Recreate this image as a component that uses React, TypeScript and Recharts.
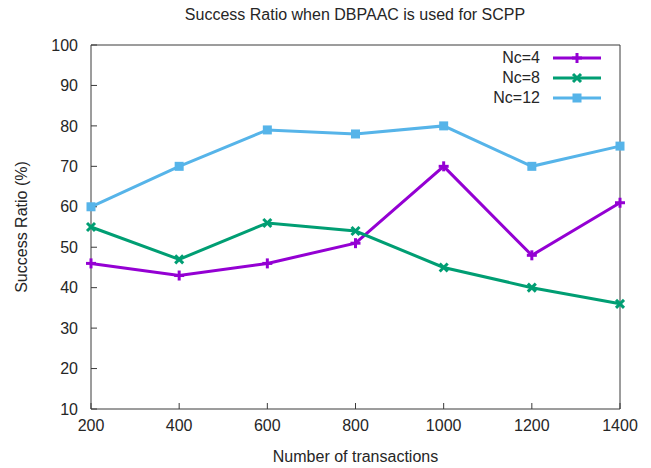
import React from 'react'
import { LineChart, Line, XAxis, YAxis } from 'recharts'

const transactions = [200, 400, 600, 800, 1000, 1200, 1400]
const nc4 = [46, 43, 46, 51, 70, 48, 61]
const nc8 = [55, 47, 56, 54, 45, 40, 36]
const nc12 = [60, 70, 79, 78, 80, 70, 75]
const yTicks = [10, 20, 30, 40, 50, 60, 70, 80, 90, 100]

const data = transactions.map((x, i) => ({ x, nc4: nc4[i], nc8: nc8[i], nc12: nc12[i] }))

const FONT = '"Liberation Sans", Arial, sans-serif'
const TEXT = '#262626'
const BORDER = '#3a3a3a'

const series = [
  { key: 'nc4', name: 'Nc=4', color: '#9400d3', shape: 'plus' },
  { key: 'nc8', name: 'Nc=8', color: '#009e73', shape: 'cross' },
  { key: 'nc12', name: 'Nc=12', color: '#56b4e9', shape: 'square' },
]

function Marker({ cx, cy, shape, color }: any) {
  if (cx == null || cy == null) return null
  if (shape === 'plus') {
    return (
      <g stroke={color} strokeWidth={3}>
        <line x1={cx - 5} y1={cy} x2={cx + 5} y2={cy} />
        <line x1={cx} y1={cy - 5} x2={cx} y2={cy + 5} />
      </g>
    )
  }
  if (shape === 'cross') {
    return (
      <g stroke={color} strokeWidth={3}>
        <line x1={cx - 4} y1={cy - 4} x2={cx + 4} y2={cy + 4} />
        <line x1={cx - 4} y1={cy + 4} x2={cx + 4} y2={cy - 4} />
      </g>
    )
  }
  return <rect x={cx - 4.5} y={cy - 4.5} width={9} height={9} fill={color} />
}

// key box in the upper right corner of the plot
function LegendBox() {
  return (
    <div style={{ position: 'absolute', right: 48, top: 48, fontFamily: FONT, fontSize: 16, color: TEXT }}>
      {series.map((s) => (
        <div key={s.key} style={{ display: 'flex', alignItems: 'center', justifyContent: 'flex-end', height: 20 }}>
          <span>{s.name}</span>
          <svg width={52} height={14} style={{ marginLeft: 11 }}>
            <line x1={2} y1={7} x2={50} y2={7} stroke={s.color} strokeWidth={3} />
            <Marker cx={26} cy={7} shape={s.shape} color={s.color} />
          </svg>
        </div>
      ))}
    </div>
  )
}

function YTitle({ viewBox }: any) {
  const cy = viewBox.y + viewBox.height / 2
  return (
    <text x={21} y={cy} transform={`rotate(-90 21 ${cy})`} textAnchor="middle" dominantBaseline="central"
      fontFamily={FONT} fontSize={16} fill={TEXT}>
      Success Ratio (%)
    </text>
  )
}

export default function App() {
  return (
    <div style={{ position: 'absolute', left: 0, top: 0, width: 651, height: 468, background: '#fff' }}>
      <div style={{ position: 'absolute', left: 0, top: 6, width: 710, textAlign: 'center', fontFamily: FONT, fontSize: 16, color: TEXT }}>
        Success Ratio when DBPAAC is used for SCPP
      </div>
      <LineChart width={651} height={468} data={data} margin={{ top: 44, right: 30, bottom: 9, left: 11 }}>
        <XAxis xAxisId="b" dataKey="x" type="number" domain={[200, 1400]} ticks={transactions}
          stroke={BORDER} tickSize={-6} tickMargin={17} height={50}
          tick={{ fontFamily: FONT, fontSize: 16, fill: TEXT }}
          label={{ value: 'Number of transactions', position: 'insideBottom', offset: -3, fontFamily: FONT, fontSize: 16, fill: TEXT }} />
        <XAxis xAxisId="t" orientation="top" dataKey="x" type="number" domain={[200, 1400]} ticks={transactions}
          stroke={BORDER} tickSize={-6} tick={false} height={1} />
        <YAxis yAxisId="l" domain={[10, 100]} ticks={yTicks} stroke={BORDER} tickSize={-6} tickMargin={19} width={80}
          tick={{ fontFamily: FONT, fontSize: 16, fill: TEXT }} label={{ content: YTitle }} />
        <YAxis yAxisId="r" orientation="right" domain={[10, 100]} ticks={yTicks} stroke={BORDER} tickSize={-6} tick={false} width={1} />
        {series.map((s) => (
          <Line key={s.key} xAxisId="b" yAxisId="l" dataKey={s.key} name={s.name} stroke={s.color} strokeWidth={3}
            isAnimationActive={false}
            dot={(p: any) => <Marker key={`${s.key}-${p.index}`} cx={p.cx} cy={p.cy} shape={s.shape} color={s.color} />} />
        ))}
      </LineChart>
      <LegendBox />
    </div>
  )
}
